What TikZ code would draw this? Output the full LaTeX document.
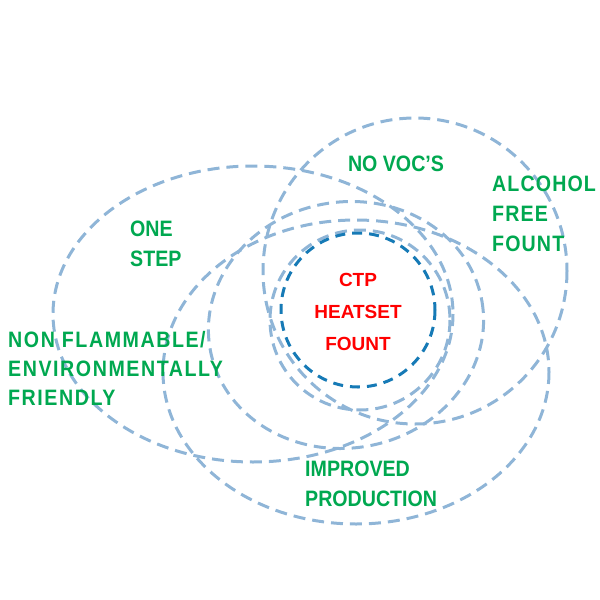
\documentclass[tikz,border=0pt]{standalone}
\usepackage{fontspec}
\setmainfont{Liberation Sans}
\newfontfamily\greenfont{Liberation Sans}[FakeStretch=0.88]
\newfontfamily\greenmidfont{Liberation Sans}[FakeStretch=0.88, LetterSpace=5]
\newfontfamily\greenwidefont{Liberation Sans}[FakeStretch=0.88, LetterSpace=7]
\definecolor{ringblue}{RGB}{143,181,215}
\definecolor{coreblue}{RGB}{22,122,182}
\definecolor{labgreen}{RGB}{0,168,80}
\definecolor{labred}{RGB}{255,0,0}
\tikzset{
  ring/.style={draw=ringblue, line width=3pt, dash pattern=on 12pt off 7pt},
  core/.style={draw=coreblue, line width=3pt, dash pattern=on 10pt off 7pt},
  glabel/.style={text=labgreen, font=\greenfont\bfseries\fontsize{22.3}{29.5}\selectfont, inner sep=0pt, align=left},
  gmlabel/.style={glabel, font=\greenmidfont\bfseries\fontsize{22.3}{30}\selectfont},
  gwlabel/.style={glabel, font=\greenwidefont\bfseries\fontsize{22.3}{29}\selectfont},
  rlabel/.style={text=labred, font=\bfseries\fontsize{19}{32}\selectfont, inner sep=0pt, align=center}
}
\begin{document}
\begin{tikzpicture}[x=1pt,y=-1pt]
\useasboundingbox (0,0) rectangle (600,600);
% outer dashed ellipses
\draw[ring] (253,314) ellipse [x radius=200, y radius=148];
\draw[ring] (415,271) ellipse [x radius=152, y radius=153];
\draw[ring] (356,372) ellipse [x radius=193, y radius=152];
\draw[ring, rotate around={10:(346,325)}] (346,325) ellipse [x radius=138, y radius=123];
\draw[ring] (360,320) circle [radius=90];
% core circle
\draw[core] (358,310) circle [radius=77];
% labels
\node[rlabel] (core) at (358,312) {CTP\\HEATSET\\FOUNT};
\node[glabel, anchor=center] (novoc) at (396,164) {NO VOC’S};
\node[gmlabel, anchor=north west] (alcohol) at (492,176) {ALCOHOL\\FREE\\FOUNT};
\node[glabel, anchor=north west] (onestep) at (130,221) {ONE\\STEP};
\node[gwlabel, anchor=north west] (nonflam) at (8,331) {NON FLAMMABLE/\\ENVIRONMENTALLY\\FRIENDLY};
\node[glabel, anchor=north west] (improved) at (305,461) {IMPROVED\\PRODUCTION};
\end{tikzpicture}
\end{document}
